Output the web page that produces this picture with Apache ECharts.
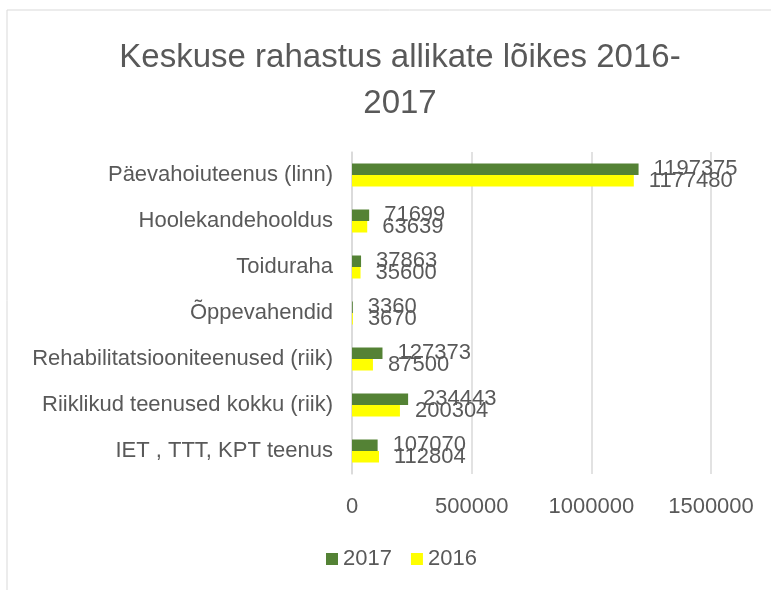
<!DOCTYPE html>
<html>
<head>
<meta charset="utf-8">
<script src="https://cdn.jsdelivr.net/npm/echarts@6/dist/echarts.min.js"></script>
<style>
  html, body { margin: 0; padding: 0; background: #fff; }
  #chart { width: 771px; height: 590px; }
</style>
</head>
<body>
<div id="chart"></div>
<script>
var myChart = echarts.init(document.getElementById('chart'));

// andmed
var categories = [
	'Päevahoiuteenus (linn)',
	'Hoolekandehooldus',
	'Toiduraha',
	'Õppevahendid',
	'Rehabilitatsiooniteenused (riik)',
	'Riiklikud teenused kokku (riik)',
	'IET , TTT, KPT teenus'
];
var data2017 = [1197375, 71699, 37863, 3360, 127373, 234443, 107070];
var data2016 = [1177480, 63639, 35600, 3670, 87500, 200304, 112804];
var xTicks = [0, 500000, 1000000, 1500000];

var textColor = '#595959';
var lineColor = '#d9d9d9';
var font = 'Liberation Sans';
var fs = 22;

var option = {
	backgroundColor: '#fff',
	textStyle: { fontFamily: font },
	title: {
		text: 'Keskuse rahastus allikate lõikes 2016-\n2017',
		left: 395,
		top: 30,
		textAlign: 'center',
		textStyle: {
			color: textColor,
			fontSize: 33,
			fontWeight: 'normal',
			fontFamily: font,
			lineHeight: 46
		}
	},
	// raam
	graphic: [
		{
			type: 'rect',
			shape: { x: 7, y: 10, width: 800, height: 620 },
			style: { fill: null, stroke: lineColor, lineWidth: 1 },
			silent: true
		}
	],
	legend: {
		data: ['2017', '2016'],
		bottom: 15,
		left: 321,
		itemWidth: 12,
		itemHeight: 12,
		itemGap: 19,
		icon: 'rect',
		textStyle: { color: textColor, fontSize: fs, fontFamily: font }
	},
	grid: {
		left: 352,
		right: 60,
		top: 152,
		bottom: 116
	},
	xAxis: {
		type: 'value',
		min: xTicks[0],
		max: xTicks[xTicks.length - 1],
		interval: xTicks[1] - xTicks[0],
		axisLine: { show: false },
		axisTick: { show: false },
		axisLabel: {
			color: textColor,
			fontSize: fs,
			margin: 22,
			fontFamily: font,
			formatter: function (v) { return String(v); }
		},
		splitLine: { show: true, lineStyle: { color: lineColor, width: 1.5 } }
	},
	yAxis: {
		type: 'category',
		inverse: true,
		data: categories,
		axisLine: { show: true, lineStyle: { color: lineColor, width: 1.5 } },
		axisTick: { show: false },
		axisLabel: { color: textColor, fontSize: fs, margin: 19, fontFamily: font }
	},
	series: [
		{
			name: '2017',
			type: 'bar',
			data: data2017,
			barGap: '0%',
			barCategoryGap: '50%',
			itemStyle: { color: '#548235' },
			label: {
				show: true,
				position: 'right',
				distance: 15,
				color: textColor,
				fontSize: fs,
				fontFamily: font
			}
		},
		{
			name: '2016',
			type: 'bar',
			data: data2016,
			barGap: '0%',
			barCategoryGap: '50%',
			itemStyle: { color: '#ffff00' },
			label: {
				show: true,
				position: 'right',
				distance: 15,
				color: textColor,
				fontSize: fs,
				fontFamily: font
			}
		}
	]
};

myChart.setOption(option);
</script>
</body>
</html>
